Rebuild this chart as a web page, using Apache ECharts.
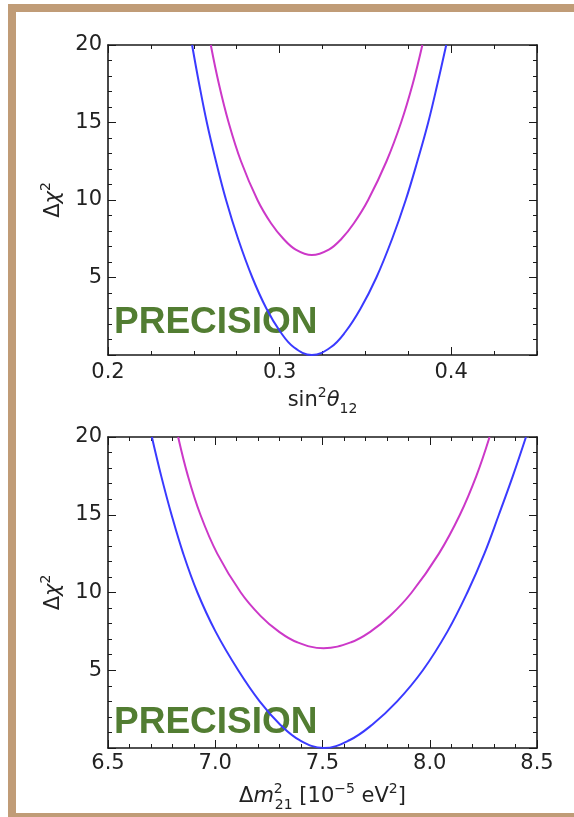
<!DOCTYPE html>
<html><head><meta charset="utf-8">
<script src="https://cdn.jsdelivr.net/npm/echarts@6/dist/echarts.min.js"></script>
<style>html,body{margin:0;padding:0;background:#fff}#c{width:574px;height:817px}</style>
</head><body><div id="c"></div>
<script>
// ---- data ----
const thetaBlue = [[0.2490,20],[0.2531,17.5],[0.2576,15],[0.2629,12.5],[0.2688,10],[0.2758,7.5],[0.2841,5],[0.2923,3],[0.3004,1.5],[0.3083,0.5],[0.3188,0],[0.3298,0.5],[0.3384,1.5],[0.3472,3],[0.3564,5],[0.3656,7.5],[0.3735,10],[0.3803,12.5],[0.3866,15],[0.3920,17.5],[0.3971,20]];
const thetaMagenta = [[0.2599,20],[0.2646,17.5],[0.2703,15],[0.2775,12.5],[0.2871,10],[0.2950,8.5],[0.3022,7.5],[0.3094,6.8],[0.3188,6.45],[0.3287,6.8],[0.3361,7.5],[0.3433,8.5],[0.3516,10],[0.3623,12.5],[0.3708,15],[0.3776,17.5],[0.3832,20]];
const dmBlue = [[6.7045,20],[6.7479,17.5],[6.7962,15],[6.8508,12.5],[6.9169,10],[7.0010,7.5],[7.1070,5],[7.2071,3],[7.3029,1.5],[7.3933,0.5],[7.505,0],[7.6252,0.5],[7.7316,1.5],[7.8479,3],[7.9679,5],[8.0829,7.5],[8.1753,10],[8.2546,12.5],[8.3222,15],[8.3876,17.5],[8.4486,20]];
const dmMagenta = [[6.8270,20],[6.8725,17.5],[6.9309,15],[7.0093,12.5],[7.1190,10],[7.2108,8.5],[7.2951,7.5],[7.3824,6.8],[7.505,6.42],[7.6331,6.8],[7.7253,7.5],[7.8150,8.5],[7.9156,10],[8.0426,12.5],[8.1406,15],[8.2174,17.5],[8.2789,20]];
const thetaRange = [0.2, 0.45];
const dmRange = [6.5, 8.5];
const chiRange = [0, 20];
const labelText = 'PRECISION';

// ---- styling ----
const FONT = 'DejaVu Sans';
const INK = '#1a1a1a';
const lab = {fontFamily: FONT, fontSize: 21, color: '#222'};
const rich = {
  n:   {fontFamily: FONT, fontSize: 21, color: '#222', lineHeight: 30, align: 'left'},
  it:  {fontFamily: FONT, fontSize: 21, color: '#222', lineHeight: 30, fontStyle: 'italic', align: 'left'},
  sup: {fontFamily: FONT, fontSize: 14, color: '#222', lineHeight: 16, verticalAlign: 'top', align: 'left'},
  sub: {fontFamily: FONT, fontSize: 14, color: '#222', lineHeight: 16, verticalAlign: 'bottom', align: 'left'},
  supS:{fontFamily: FONT, fontSize: 14, color: '#222', lineHeight: 16, verticalAlign: 'top', align: 'left', width: 1}
};
const line = {show: true, onZero: false, lineStyle: {color: INK, width: 1.6}};
const noLine = {show: false, onZero: false};
const tick = (len) => ({show: true, inside: true, length: len, lineStyle: {color: INK, width: 1}});
const minor = (n) => ({show: true, splitNumber: n, length: 4, lineStyle: {color: INK, width: 1}});

function xMain(grid, range, interval, pos, opts) {
  return Object.assign({gridIndex: grid, type: 'value', min: range[0], max: range[1], interval: interval,
    position: pos, axisLine: line, axisTick: tick(8), splitLine: {show: false},
    axisLabel: {show: false}}, opts || {});
}
function yMain(grid, pos, opts) {
  return Object.assign({gridIndex: grid, type: 'value', min: chiRange[0], max: chiRange[1], interval: 5,
    position: pos, axisLine: line, axisTick: tick(8), minorTick: minor(5), splitLine: {show: false},
    axisLabel: {show: false}}, opts || {});
}

const xAxes = [
  // grid 0 (sin^2 theta12)
  xMain(0, thetaRange, 0.1, 'bottom', {
    axisLabel: Object.assign({}, lab, {margin: 7, showMaxLabel: false, formatter: v => v.toFixed(1)}),
    name: '{n|sin}{sup|2}{it|θ}{sub|12}', nameLocation: 'middle', nameGap: 31, nameTextStyle: {rich: rich}
  }),
  xMain(0, thetaRange, 0.025, 'bottom', {axisLine: noLine, axisTick: tick(4)}),
  xMain(0, thetaRange, 0.1, 'top'),
  xMain(0, thetaRange, 0.025, 'top', {axisLine: noLine, axisTick: tick(4)}),
  // grid 1 (delta m^2_21)
  xMain(1, dmRange, 0.5, 'bottom', {
    minorTick: minor(5),
    axisLabel: Object.assign({}, lab, {margin: 5, formatter: v => v.toFixed(1)}),
    name: '{n|Δ}{it|m}{supS|2}{sub|21}{n| [10}{sup|−5}{n| eV}{sup|2}{n|]}', nameLocation: 'middle', nameGap: 34,
    nameTextStyle: {rich: rich}
  }),
  xMain(1, dmRange, 0.5, 'top', {minorTick: minor(5)})
];
const yName = {name: '{n|Δ}{it|χ}{sup|2}', nameLocation: 'middle', nameRotate: 90, nameGap: 32, nameTextStyle: {rich: rich}};
const yAxes = [
  yMain(0, 'left', Object.assign({axisLabel: Object.assign({}, lab, {margin: 6, showMinLabel: false})}, yName)),
  yMain(0, 'right'),
  yMain(1, 'left', Object.assign({axisLabel: Object.assign({}, lab, {margin: 6, showMinLabel: false})}, yName)),
  yMain(1, 'right')
];

function curve(data, color, xi, yi) {
  return {type: 'line', data: data, xAxisIndex: xi, yAxisIndex: yi, smooth: 0.4, showSymbol: false,
    symbol: 'none', lineStyle: {color: color, width: 2}, z: 5, silent: true};
}
const BLUE = '#3a3aff', MAG = '#cc38c8';

const chart = echarts.init(document.getElementById('c'), null, {renderer: 'canvas'});
chart.setOption({
  animation: false,
  backgroundColor: '#fff',
  grid: [
    {left: 108, top: 45, width: 429, height: 310, containLabel: false, outerBoundsMode: 'none'},
    {left: 108, top: 437, width: 429, height: 311, containLabel: false, outerBoundsMode: 'none'}
  ],
  xAxis: xAxes,
  yAxis: yAxes,
  series: [
    curve(thetaBlue, BLUE, 0, 0),
    curve(thetaMagenta, MAG, 0, 0),
    curve(dmBlue, BLUE, 4, 2),
    curve(dmMagenta, MAG, 4, 2)
  ],
  graphic: [
    {type: 'rect', shape: {x: 8, y: 4, width: 566, height: 8}, style: {fill: '#c09c77'}, z: 10},
    {type: 'rect', shape: {x: 8, y: 4, width: 8, height: 813}, style: {fill: '#c09c77'}, z: 10},
    {type: 'rect', shape: {x: 8, y: 813, width: 566, height: 8}, style: {fill: '#c09c77'}, z: 10},
    {type: 'text', x: 114, y: 323, z: 1, style: {text: labelText, font: 'bold 37px "Liberation Sans", Arial, sans-serif', fill: '#527d32', align: 'left', verticalAlign: 'middle'}},
    {type: 'text', x: 114, y: 723, z: 1, style: {text: labelText, font: 'bold 37px "Liberation Sans", Arial, sans-serif', fill: '#527d32', align: 'left', verticalAlign: 'middle'}}
  ]
});
</script>
</body></html>
